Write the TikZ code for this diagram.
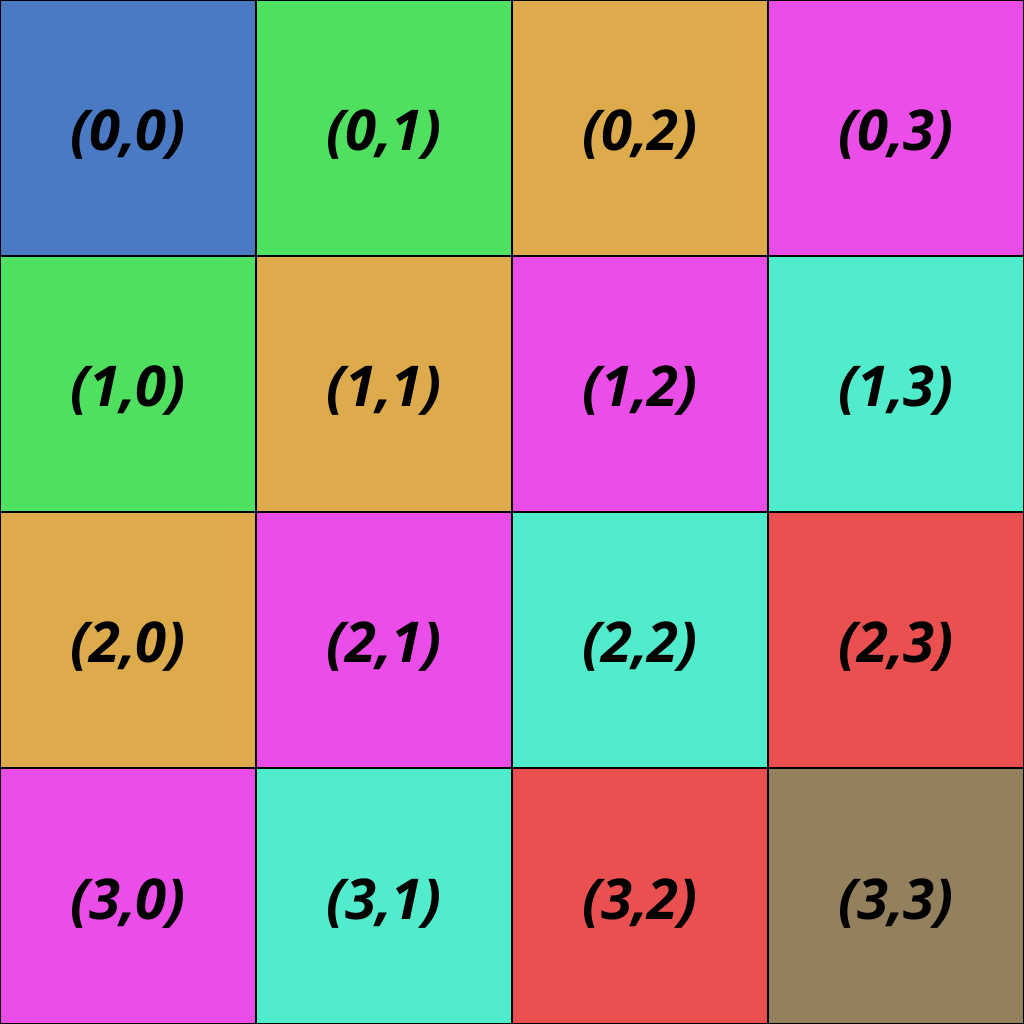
\documentclass[tikz,border=0pt]{standalone}
\usepackage{fontspec}
\setsansfont{Open Sans}
\usepackage{xcolor}
\usepackage{tikz}
\usetikzlibrary{positioning}
\definecolor{diagzero}{HTML}{4A7AC4}
\definecolor{diagone}{HTML}{4FE05F}
\definecolor{diagtwo}{HTML}{DEAB4C}
\definecolor{diagthree}{HTML}{EA4DE8}
\definecolor{diagfour}{HTML}{50ECCB}
\definecolor{diagfive}{HTML}{EA5050}
\definecolor{diagsix}{HTML}{93815E}
\tikzset{
  cellbox/.style={
    draw=black, line width=0.4pt, inner sep=0pt, minimum size=2.56cm,
    text height=0.6cm, text depth=0.14cm,
    font=\sffamily\bfseries\itshape\fontsize{16}{19}\selectfont
  },
}

\begin{document}
\begin{tikzpicture}
  \useasboundingbox (0,0) rectangle (10.24,10.24);

  % === Row 0 ===
  \node[cellbox, fill=diagzero]  (c00) at (1.28, 8.96) {(0,0)};
  \node[cellbox, fill=diagone]   (c01) at (3.84, 8.96) {(0,1)};
  \node[cellbox, fill=diagtwo]   (c02) at (6.40, 8.96) {(0,2)};
  \node[cellbox, fill=diagthree] (c03) at (8.96, 8.96) {(0,3)};

  % === Row 1 ===
  \node[cellbox, fill=diagone]   (c10) at (1.28, 6.40) {(1,0)};
  \node[cellbox, fill=diagtwo]   (c11) at (3.84, 6.40) {(1,1)};
  \node[cellbox, fill=diagthree] (c12) at (6.40, 6.40) {(1,2)};
  \node[cellbox, fill=diagfour]  (c13) at (8.96, 6.40) {(1,3)};

  % === Row 2 ===
  \node[cellbox, fill=diagtwo]   (c20) at (1.28, 3.84) {(2,0)};
  \node[cellbox, fill=diagthree] (c21) at (3.84, 3.84) {(2,1)};
  \node[cellbox, fill=diagfour]  (c22) at (6.40, 3.84) {(2,2)};
  \node[cellbox, fill=diagfive]  (c23) at (8.96, 3.84) {(2,3)};

  % === Row 3 ===
  \node[cellbox, fill=diagthree] (c30) at (1.28, 1.28) {(3,0)};
  \node[cellbox, fill=diagfour]  (c31) at (3.84, 1.28) {(3,1)};
  \node[cellbox, fill=diagfive]  (c32) at (6.40, 1.28) {(3,2)};
  \node[cellbox, fill=diagsix]   (c33) at (8.96, 1.28) {(3,3)};

\end{tikzpicture}
\end{document}
